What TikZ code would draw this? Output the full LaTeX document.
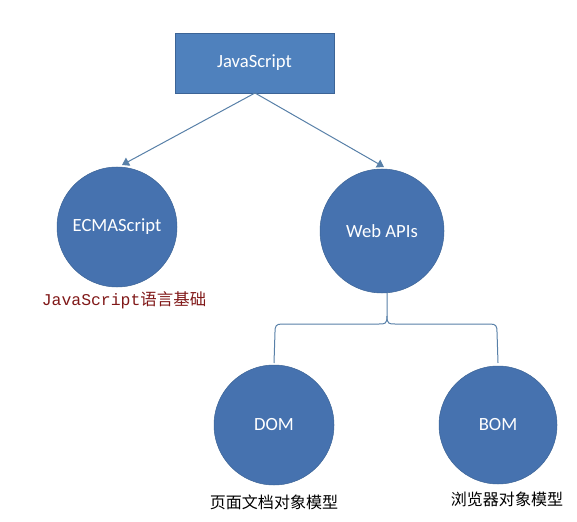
\documentclass[tikz,border=0pt]{standalone}
\usepackage{fontspec}
\setmainfont{Carlito}
\newfontfamily\cjk{Noto Sans CJK SC}
\newfontfamily\cour{Liberation Mono}
\usetikzlibrary{arrows.meta}
\definecolor{boxblue}{RGB}{79,129,189}
\definecolor{circblue}{RGB}{70,114,175}
\definecolor{edgeblue}{RGB}{60,100,150}
\definecolor{linkblue}{RGB}{88,128,168}
\definecolor{labred}{RGB}{128,24,24}
\begin{document}
\begin{tikzpicture}[x=1bp,y=-1bp,
  topbox/.style={draw=edgeblue,fill=boxblue,line width=0.6bp,minimum width=159bp,minimum height=60bp,text=white,font=\fontsize{18.7}{21}\selectfont},
  bubble/.style={circle,draw=edgeblue,fill=circblue,line width=0.5bp,minimum size=#1,inner sep=0pt,text=white,font=\fontsize{18.7}{21}\selectfont},
  link/.style={draw=linkblue,line width=1bp},
  arrowlink/.style={link,-{Triangle[length=7bp,width=9bp]}},
  caption/.style={font=\cjk\fontsize{16.1}{19}\selectfont,inner sep=0pt}
]
\useasboundingbox (0,0) rectangle (577,522);
\node[topbox] (js) at (254.5,63) {JavaScript};
\node[bubble=120bp] (ecma) at (117,227) {ECMAScript};
\node[bubble=124bp] (web) at (382,231) {Web APIs};
\node[bubble=120bp] (dom) at (274,425) {DOM};
\node[bubble=118bp] (bom) at (498,425) {BOM};
\node[inner sep=0pt,text=labred] (ecmalab) at (124,300) {\cour\fontsize{16.5}{19}\selectfont JavaScript\cjk\fontsize{16.5}{19}\selectfont 语言基础};
\node[caption] (domlab) at (274,502) {页面文档对象模型};
\node[caption] (bomlab) at (507,499) {浏览器对象模型};
\coordinate (jsb) at (255,93);
\draw[arrowlink] (jsb) -- (122,165);
\draw[arrowlink] (jsb) -- (384,167);
\coordinate (bt) at (387,293);
\coordinate (bl) at (274,363);
\coordinate (br) at (498,363);
\draw[link] (bt) -- (387,316) .. controls (387,324) and (385,324) .. (379,324) -- (282,324)
  .. controls (276,324) and (275,326) .. (275,332) -- (bl);
\draw[link] (387,316) .. controls (387,324) and (389,324) .. (395,324) -- (490,324)
  .. controls (496,324) and (497,326) .. (497,332) -- (br);
\end{tikzpicture}
\end{document}
